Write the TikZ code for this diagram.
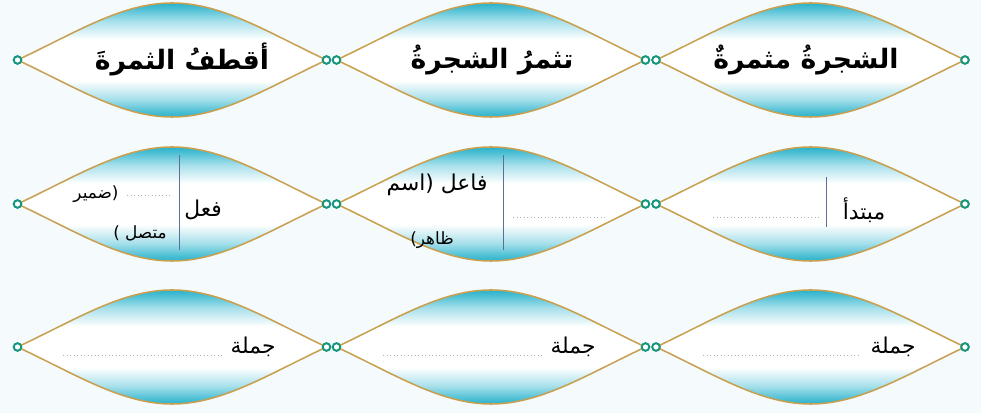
\documentclass[tikz,border=0pt]{standalone}
\usepackage{fontspec}
\newfontfamily\arabicfont[Script=Arabic]{DejaVu Sans}
\TeXXeTstate=1
\usetikzlibrary{positioning}
\definecolor{bgpale}{RGB}{245,251,253}
\definecolor{lensteal}{RGB}{38,178,204}
\definecolor{lensgold}{RGB}{200,160,80}
\definecolor{ringteal}{RGB}{20,150,125}
\definecolor{rulegray}{RGB}{95,110,150}
\definecolor{dotgray}{RGB}{160,180,195}
\pgfdeclareverticalshading{lensshade}{100bp}{color(0bp)=(lensteal); color(25bp)=(lensteal);
  color(33bp)=(lensteal!40!white); color(41bp)=(white); color(59bp)=(white);
  color(67bp)=(lensteal!40!white); color(75bp)=(lensteal); color(100bp)=(lensteal)}
\tikzset{
  lens/.style={draw=lensgold, line width=1.1pt, shade, shading=lensshade},
  ring/.style={circle, draw=ringteal, fill=white, line width=1.4pt,
               inner sep=0pt, minimum size=0.19cm},
  bigtext/.style={font=\arabicfont\bfseries\fontsize{19}{22}\selectfont, inner sep=0pt},
  midtext/.style={font=\arabicfont\fontsize{15.5}{18}\selectfont, inner sep=0pt},
  smalltext/.style={font=\arabicfont\fontsize{12}{14}\selectfont, inner sep=0pt},
  divider/.style={draw=rulegray, line width=0.6pt},
  blank/.style={draw=dotgray, dotted, line width=0.5pt},
}
% one lens: name, centre x, centre y
\newcommand{\lensat}[3]{%
  \path[lens] (#2-154.5,#3) .. controls (#2-95,#3+28) and (#2-50,#3+57) .. (#2,#3+57)
    .. controls (#2+50,#3+57) and (#2+95,#3+28) .. (#2+154.5,#3)
    .. controls (#2+95,#3-28) and (#2+50,#3-57) .. (#2,#3-57)
    .. controls (#2-50,#3-57) and (#2-95,#3-28) .. cycle;
  \coordinate (#1w) at (#2-154.5,#3);
  \coordinate (#1e) at (#2+154.5,#3);
}
\begin{document}
\begin{tikzpicture}[x=0.025cm, y=0.025cm]

  \path[use as bounding box, fill=bgpale] (0,0) rectangle (981,413);

  % Lenses
  \foreach \row/\cy in {a/353, b/209, c/66}
    \foreach \col/\cx in {1/172, 2/491, 3/810.5}
      {\lensat{\row\col}{\cx}{\cy}}

  % Rings at the tips
  \foreach \row in {a,b,c}
    \foreach \col in {1,2,3}
      {\node[ring] (\row\col wr) at (\row\col w) {};
       \node[ring] (\row\col er) at (\row\col e) {};}

  % Row 1
  \node[bigtext] (qatf) at (182,353) {\beginR أقطفُ الثمرةَ\endR};
  \node[bigtext] (tuthmir) at (492,353) {\beginR تثمرُ الشجرةُ\endR};
  \node[bigtext] (muthmira) at (806,353) {\beginR الشجرةُ مثمرةٌ\endR};

  % Row 2
  \node[midtext] (mubtada) at (864,203) {\beginR مبتدأ\endR};
  \draw[divider] (826,236) -- (826,186);
  \draw[blank] (713,196) -- (820,196);

  \node[midtext] (faail) at (437,228) {\beginR فاعل (اسم\endR};
  \node[smalltext] (zahir) at (432,173) {\beginR ظاهر)\endR};
  \draw[divider] (503,258) -- (503,163);
  \draw[blank] (513,196) -- (607,196);

  \node[midtext] (fiil) at (203,203) {\beginR فعل\endR};
  \node[smalltext] (damir) at (96,219) {\beginR (ضمير\endR};
  \node[smalltext] (muttasil) at (140,180) {\beginR متصل )\endR};
  \draw[divider] (179,258) -- (179,163);
  \draw[blank] (127,218) -- (170,218);

  % Row 3
  \node[midtext] (jumla3) at (893,66) {\beginR جملة\endR};
  \node[midtext] (jumla2) at (573,66) {\beginR جملة\endR};
  \node[midtext] (jumla1) at (253,66) {\beginR جملة\endR};
  \draw[blank] (703,58) -- (860,58);
  \draw[blank] (383,58) -- (542,58);
  \draw[blank] (63,58) -- (223,58);

\end{tikzpicture}
\end{document}
